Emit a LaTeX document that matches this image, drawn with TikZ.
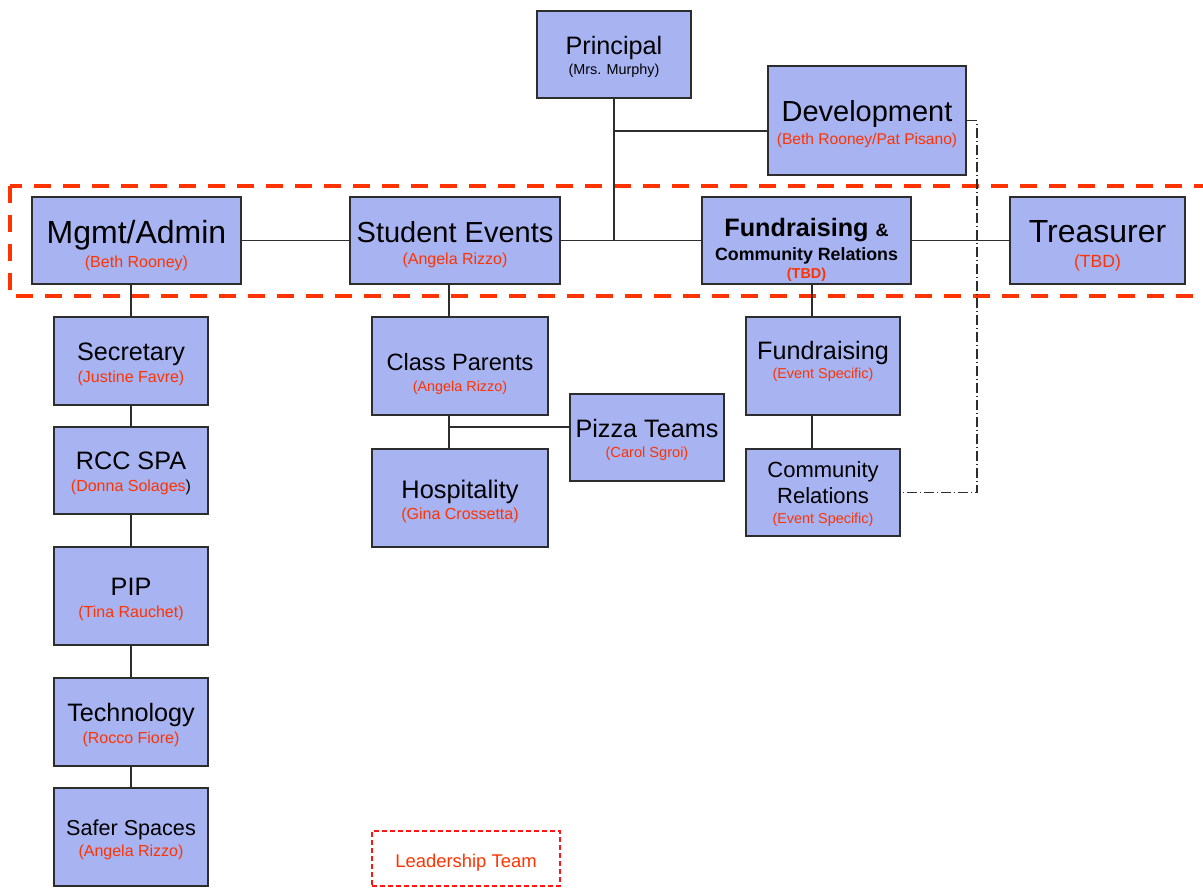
\documentclass[tikz,border=0pt]{standalone}
\usepackage{fontspec}
\setmainfont{Liberation Sans}

\definecolor{boxfill}{RGB}{168,179,242}
\definecolor{boxline}{RGB}{45,45,45}
\definecolor{subred}{RGB}{255,51,0}
\definecolor{frameRed}{RGB}{255,20,20}

\newcommand{\fs}[2]{\fontsize{#1}{#2}\selectfont}
\newcommand{\who}[2][8]{{\fontsize{#1}{#1}\selectfont\color{subred}#2}}

\begin{document}
\begin{tikzpicture}[
    x=0.5pt, y=-0.5pt,
    org box/.style={draw=boxline, fill=boxfill, line width=0.75pt, align=center, inner sep=0pt},
    card/.style 2 args={text height=#1, text depth=#2},
    link/.style={draw=boxline, line width=0.75pt},
    dev link/.style={link, dash pattern=on 5pt off 1.5pt on 0.5pt off 1.5pt},
    team band/.style={draw=subred, line width=1.8pt, dash pattern=on 8.5pt off 6pt},
    team key/.style={draw=frameRed, line width=0.6pt, dash pattern=on 2.5pt off 1.5pt, text=subred, inner sep=0pt}
]
    \useasboundingbox (0,0) rectangle (1203,888);

    % leadership band
    \draw[team band] (10,186) rectangle (1240,296);

    % top row
    \node[org box, minimum width=77pt, card={31.75pt}{11.75pt}, font=\fs{12.6}{10}] (prin) at (614,54.5)
        {Principal\\{\fs{7.2}{7.2}(Mrs. Murphy)}};
    \node[org box, minimum width=99pt, card={39pt}{15.5pt}, font=\fs{14.5}{11.5}] (dev) at (867,120.5)
        {Development\\\who[7.8]{(Beth Rooney/Pat Pisano)}};

    % leadership team
    \node[org box, minimum width=104.5pt, card={35pt}{8.5pt}, font=\fs{16}{12}] (mgmt) at (136.5,240.5)
        {Mgmt/Admin\\\who{(Beth Rooney)}};
    \node[org box, minimum width=105pt, card={33.5pt}{10pt}, font=\fs{14.5}{11}] (se) at (455,240.5)
        {Student Events\\\who{(Angela Rizzo)}};
    \node[org box, minimum width=104.5pt, card={40.5pt}{3pt}, font=\fs{12.6}{12}\bfseries] (fcr) at (806.5,240.5)
        {Fundraising {\fs{9}{9}\&}\\{\fs{8.9}{8.9}Community Relations}\\[-3pt]\who[7.2]{(TBD)}};
    \node[org box, minimum width=87.5pt, card={35pt}{8.5pt}, font=\fs{16}{12.5}] (treas) at (1097.5,240.5)
        {Treasurer\\\who[8.8]{(TBD)}};

    % mgmt column
    \node[org box, minimum width=77pt, card={32.5pt}{11.5pt}, font=\fs{12.6}{11}] (sec) at (131,361)
        {Secretary\\\who{(Justine Favre)}};
    \node[org box, minimum width=77pt, card={32pt}{11.5pt}, font=\fs{12.6}{11}] (rcc) at (131,470.5)
        {RCC SPA\\{\fs{8}{8}\textcolor{subred}{(Donna Solages})}};
    \node[org box, minimum width=77pt, card={35pt}{14pt}, font=\fs{12.6}{10.7}] (pip) at (131,596)
        {PIP\\\who{(Tina Rauchet)}};
    \node[org box, minimum width=77pt, card={32.5pt}{11.5pt}, font=\fs{12.6}{11}] (tech) at (131,722)
        {Technology\\\who{(Rocco Fiore)}};
    \node[org box, minimum width=77pt, card={34pt}{15pt}, font=\fs{10.8}{10.3}] (safer) at (131,837)
        {Safer Spaces\\\who{(Angela Rizzo)}};

    % student events column
    \node[org box, minimum width=88pt, card={37.25pt}{11.75pt}, font=\fs{11.8}{10.5}] (cp) at (460,366)
        {Class Parents\\\who[7.2]{(Angela Rizzo)}};
    \node[org box, minimum width=88pt, card={35pt}{14pt}, font=\fs{12.7}{10.5}] (hosp) at (460,498)
        {Hospitality\\\who{(Gina Crossetta)}};
    \node[org box, minimum width=77pt, card={31.75pt}{11.75pt}, font=\fs{12.6}{10}] (pizza) at (647,437.5)
        {Pizza Teams\\\who[7.3]{(Carol Sgroi)}};

    % fundraising column
    \node[org box, minimum width=77pt, card={30.75pt}{18.25pt}, font=\fs{12.6}{9.5}] (fund) at (823,366)
        {Fundraising\\\who[7.2]{(Event Specific)}};
    \node[org box, minimum width=77pt, card={37.25pt}{6.25pt}, font=\fs{11}{12.8}] (cr) at (823,492.5)
        {Community\\Relations\\[-2.8pt]\who[7.2]{(Event Specific)}};

    % key
    \node[team key, minimum width=94pt, card={18.3pt}{9.2pt}, font=\fs{9.2}{9.2}] (key) at (466,858.5)
        {Leadership Team};

    % connectors
    \draw[link] (prin.south) -- (prin.south |- se.east);
    \draw[link] ([yshift=-5.25pt]dev.west) -- ([yshift=-5.25pt]dev.west -| prin.south);
    \draw[link] (mgmt.east) -- (se.west);
    \draw[link] (se.east) -- (fcr.west);
    \draw[link] (fcr.east) -- (treas.west);

    \draw[link] ([xshift=-2.75pt]mgmt.south) -- (sec.north);
    \foreach \a/\b in {sec/rcc, rcc/pip, pip/tech, tech/safer}
        \draw[link] (\a) -- (\b);

    \draw[link] ([xshift=-5.5pt]cp.north) -- ([xshift=-5.5pt]cp.north |- se.south);
    \draw[link] ([xshift=-5.5pt]cp.south) -- ([xshift=-5.5pt]hosp.north);
    \draw[link] ([yshift=5.25pt]pizza.west) -- ++(-121,0);

    \draw[link] ([xshift=2.75pt]fcr.south) -- ([xshift=-5.5pt]fund.north);
    \draw[link] ([xshift=-5.5pt]fund.south) -- ([xshift=-5.5pt]cr.north);

    \draw[dev link] (dev.east) -- ++(10,0) |- (cr.east);
\end{tikzpicture}
\end{document}
